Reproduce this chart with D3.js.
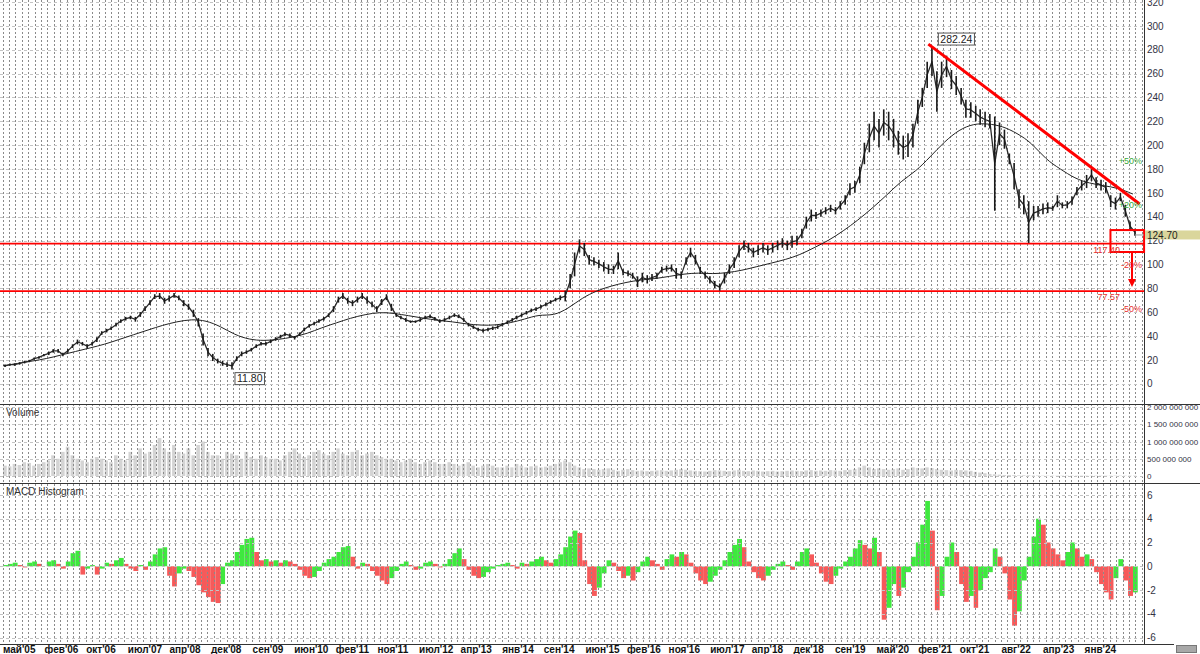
<!DOCTYPE html>
<html>
<head>
<meta charset="utf-8">
<script src="https://cdn.jsdelivr.net/npm/d3@7.9.0/dist/d3.min.js"></script>
<style>
  html, body { margin: 0; padding: 0; background: #fff; }
  svg { display: block; font-family: Arial, "Liberation Sans", sans-serif; }
</style>
</head>
<body>
<svg id="chart" width="1200" height="654"></svg>
<script>
// monthly bars, first one is May 2005
const firstMonth = new Date(2005, 4, 1);

const priceHigh = [
  16,17,17,18,19,20,22,23,
  25,27,29,29,26,29,33,37,35,33,35,39,
  44,46,48,51,54,56,57,56,60,65,70,75,
  76,72,74,76,74,70,67,62,55,42,30,25,
  21,19,18,18,23,27,28,30,33,35,35,37,
  39,41,43,42,40,43,47,50,52,54,56,59,
  65,73,76,72,70,73,76,73,69,65,71,75,
  67,59,57,55,53,53,55,57,58,56,54,55,
  57,59,58,55,51,49,47,46,47,48,49,51,
  53,55,57,59,61,63,64,66,68,70,72,74,
  78,92,110,121,118,108,106,104,102,100,99,110,
  96,95,93,90,93,91,92,93,98,99,100,97,
  94,106,114,108,98,94,90,86,84,93,100,106,
  116,120,118,114,116,118,116,118,120,122,120,124,
  124,130,140,146,144,146,148,150,148,153,158,168,
  170,182,202,218,228,222,230,228,222,212,208,210,
  218,238,248,270,282,262,270,275,263,258,248,238,
  236,233,230,228,226,224,219,213,193,185,163,158,
  153,149,149,151,152,149,158,152,153,157,165,170,
  175,180,173,171,169,158,156,160,150,136,130
];
const priceLow = [
  14,15,15,16,17,18,20,21,
  23,24,26,26,23,26,30,33,32,30,32,35,
  41,43,45,48,51,53,54,52,56,61,66,71,
  71,67,69,72,70,65,62,56,48,32,23,19,
  17,15,14,11.8,19,23,25,27,30,32,32,34,
  36,38,40,39,37,40,44,47,49,51,53,56,
  60,68,71,67,65,68,71,67,64,60,66,70,
  61,56,54,52,51,51,52,54,55,53,51,52,
  54,56,55,52,48,46,44,43,44,45,46,48,
  50,52,54,56,58,60,61,63,65,67,69,70,
  69,80,90,110,107,100,99,97,94,92,92,96,
  91,90,88,81,85,84,86,88,93,94,94,88,
  88,100,106,100,92,88,84,80,78,84,92,97,
  106,112,110,106,108,110,108,110,112,114,112,114,
  116,122,130,136,138,140,142,144,142,146,150,158,
  160,168,184,194,204,198,208,204,198,192,188,190,
  198,218,232,248,258,228,248,257,247,242,234,223,
  223,220,217,215,214,145,200,197,184,163,147,142,
  118,137,140,142,143,145,148,147,147,150,158,162,
  164,170,164,162,160,148,146,153,140,128,124
];
// moving average, one value every 3 months
const movingAvg = [
  15,17,19,21,24,27,30,33,37,41,45,49,52,54,53,48,41,37,36,37,
  39,42,47,51,55,58,60,59,57,55,53,52,50,49,49,51,54,58,57,63,
  72,78,82,85,87,88,90,92,93,92,93,95,98,101,104,108,114,120,128,137,
  147,158,170,178,190,203,213,218,218,216,210,202,188,180,172,168,166,164,159
];
// volume, millions of shares
const volume = [
  300,280,350,320,400,380,300,350,
  400,450,600,500,700,850,600,500,450,400,500,550,
  500,450,400,600,500,450,700,600,800,650,700,900,
  1100,800,700,900,700,650,800,600,900,1000,700,600,
  600,500,700,650,600,500,700,550,500,600,550,500,
  500,450,600,700,800,650,550,600,700,750,650,600,
  700,800,650,600,700,750,600,650,700,600,550,500,
  500,450,400,450,500,400,350,400,450,400,350,350,
  400,350,300,350,400,300,250,300,350,300,250,250,
  300,250,350,300,250,280,300,250,270,300,350,400,
  450,400,300,250,200,220,200,180,200,220,180,150,
  180,200,170,150,160,140,150,160,170,150,160,180,
  200,180,160,150,140,130,150,170,160,150,140,160,
  180,150,140,160,150,130,140,150,130,140,150,160,
  150,140,160,170,150,160,150,170,160,150,170,180,
  200,250,300,250,200,220,200,180,200,220,180,200,
  250,230,220,250,230,200,180,170,160,180,170,160,
  150,120,100,80,60,50,40,30,30,25,20,20,
  20,15,15,10,10,10,10,10,10,10,10,10,
  10,10,10,10,10,10,10,10,10,10,10
];
const macdHist = [
  0.1,0.2,0.3,0.1,-0.1,0.3,0.4,0.2,
  0.0,0.4,0.5,0.2,-0.2,0.4,1.1,1.3,-0.7,-0.2,0.1,-0.7,
  -0.2,0.3,0.2,0.5,0.7,0.2,-0.2,-0.4,0.1,-0.3,0.4,1.0,
  1.5,1.6,-0.8,-1.7,-0.6,-0.2,-0.4,-0.9,-1.6,-2.2,-2.6,-3.0,
  -3.1,-1.5,0.3,0.5,1.2,1.8,2.3,2.4,1.2,0.5,0.6,0.4,
  0.5,0.3,0.5,0.4,0.2,-0.3,-0.8,-1.0,-0.9,-0.4,0.3,0.6,
  0.8,1.2,1.6,1.7,0.8,-0.2,0.3,0.2,-0.4,-0.8,-1.2,-1.5,
  -1.0,-0.4,0.2,0.4,0.1,-0.3,-0.2,0.3,0.4,0.2,-0.1,0.2,
  0.6,1.1,1.5,0.6,-0.3,-0.8,-1.0,-0.9,-0.5,-0.2,0.1,0.2,
  0.3,0.1,-0.2,0.3,0.2,0.4,0.6,0.8,0.5,0.3,0.6,1.0,
  1.6,2.5,3.0,2.8,0.5,-1.5,-2.5,-1.8,-0.6,0.5,0.3,-0.4,
  -1.0,-0.8,-1.2,-0.5,0.4,0.8,0.5,0.2,-0.3,0.6,1.0,0.8,
  1.2,1.0,0.3,-0.6,-1.2,-1.5,-1.3,-0.8,-0.3,0.5,1.2,1.8,
  2.3,1.6,0.4,-0.5,-1.0,-1.2,-0.8,-0.3,0.2,0.4,0.1,-0.3,
  0.4,1.2,1.5,1.0,0.3,-0.6,-1.3,-1.5,-0.8,-0.2,0.4,0.8,
  1.5,2.2,1.8,1.5,2.4,1.2,-4.5,-3.5,-1.5,-2.5,-1.8,-0.5,
  0.8,2.0,3.5,5.5,3.0,-3.7,-2.5,0.8,2.0,1.2,-1.5,-3.0,
  -2.5,-3.5,-2.0,-1.0,-0.5,1.5,0.8,-0.6,-2.8,-5.0,-3.8,-1.2,
  0.8,2.5,4.0,3.5,2.0,1.5,1.0,0.5,1.2,2.0,1.5,0.8,
  1.0,0.6,-0.5,-1.5,-2.2,-2.8,-1.0,0.6,-1.2,-2.5,-2.2
];

const dateLabels = ["май'05","фев'06","окт'06","июл'07","апр'08","дек'08","сен'09","июн'10",
  "фев'11","ноя'11","июл'12","апр'13","янв'14","сен'14","июн'15","фев'16","ноя'16","июл'17",
  "апр'18","дек'18","сен'19","май'20","фев'21","окт'21","авг'22","апр'23","янв'24"];
const priceTicks = d3.range(0, 321, 20);
const volumeTicks = [0, 500, 1000, 1500, 2000];
const macdTicks = [-6, -4, -2, 0, 2, 4, 6];

const supportLevels = [117.40, 77.57];
const lastPrice = 124.70;
const pctTargets = [0.5, 0.2, -0.2, -0.5];
const peakMark = { date: new Date(2021, 4, 16), value: 282.24 };
const lowMark = { date: new Date(2009, 3, 1), value: 11.80 };
const trendLine = [{ date: new Date(2021, 3, 21), value: 284.7 }, { date: new Date(2024, 11, 13), value: 150.6 }];
const boxCorners = [{ date: new Date(2024, 5, 12), value: 128.8 }, { date: new Date(2025, 0, 10), value: 110.4 }];
const arrowPts = [{ date: new Date(2024, 9, 26), value: 110.4 }, { date: new Date(2024, 9, 26), value: 81 }];

const months = priceHigh.map((_, i) => d3.timeMonth.offset(firstMonth, i));

const svg = d3.select('#chart');
const axisX = 1144;

const x = d3.scaleTime()
  .domain([firstMonth, new Date(2024, 0, 1)])
  .range([3, 1084.6]);
const xLabel = d3.scaleLinear()
  .domain([0, dateLabels.length - 1])
  .range([x(firstMonth), x(new Date(2024, 0, 1))]);

const yP = d3.scaleLinear().domain([0, 320]).range([383.7, 2]);
const yV = d3.scaleLinear().domain([0, 2000]).range([476, 407]);
const yM = d3.scaleLinear().domain([-6, 6]).range([637.5, 495]);

// volume bars
svg.append('g').selectAll('rect')
  .data(volume)
  .join('rect')
  .attr('x', (d, i) => x(months[i]))
  .attr('width', (d, i) => Math.max(1, x(d3.timeMonth.offset(months[i], 1)) - x(months[i]) - 1.2))
  .attr('y', d => yV(d))
  .attr('height', d => yV(0) - yV(d))
  .attr('fill', '#d4d4d4');

// macd histogram, green when rising, red when falling
svg.append('g').selectAll('rect')
  .data(macdHist)
  .join('rect')
  .attr('x', (d, i) => x(months[i]))
  .attr('width', (d, i) => x(d3.timeMonth.offset(months[i], 1)) - x(months[i]))
  .attr('y', d => Math.min(yM(d), yM(0)))
  .attr('height', d => Math.abs(yM(d) - yM(0)))
  .attr('fill', (d, i) => (i > 0 && d < macdHist[i - 1]) ? '#f65a5a' : '#3fe83f');

// dotted grid
const grid = svg.append('g').attr('class', 'grid');
grid.selectAll('line.v')
  .data(d3.range(3, axisX, 6.4))
  .join('line')
  .attr('x1', d => d).attr('x2', d => d)
  .attr('y1', 0).attr('y2', 644)
  .attr('stroke', '#8a8a8a')
  .attr('stroke-dasharray', '2,2')
  .attr('shape-rendering', 'crispEdges');

function hGrid(scale, ticks) {
  grid.append('g').selectAll('line')
    .data(ticks)
    .join('line')
    .attr('x1', 0).attr('x2', axisX)
    .attr('y1', d => Math.round(scale(d)) + 0.5).attr('y2', d => Math.round(scale(d)) + 0.5)
    .attr('stroke', '#c4c4c4')
    .attr('stroke-dasharray', '3,3');
}
hGrid(yP, priceTicks);
hGrid(yV, volumeTicks);
hGrid(yM, macdTicks);

// panel frames
svg.append('g').selectAll('line')
  .data([404, 483])
  .join('line')
  .attr('x1', 0).attr('x2', 1200)
  .attr('y1', d => d + 0.5).attr('y2', d => d + 0.5)
  .attr('stroke', '#333');
svg.append('line')
  .attr('x1', 0).attr('x2', 1174).attr('y1', 644.5).attr('y2', 644.5)
  .attr('stroke', '#333');
svg.append('line')
  .attr('x1', axisX + 0.5).attr('x2', axisX + 0.5).attr('y1', 0).attr('y2', 645)
  .attr('stroke', '#333');

// support levels
svg.append('g').selectAll('line')
  .data(supportLevels)
  .join('line')
  .attr('x1', 0).attr('x2', axisX)
  .attr('y1', d => yP(d)).attr('y2', d => yP(d))
  .attr('stroke', '#f00')
  .attr('stroke-width', 1.6);

// moving average
svg.append('path')
  .datum(movingAvg)
  .attr('fill', 'none')
  .attr('stroke', '#222')
  .attr('stroke-width', 1)
  .attr('d', d3.line()
    .x((d, i) => x(d3.timeMonth.offset(firstMonth, i * 3)))
    .y(d => yP(d))
    .curve(d3.curveBasis));

// price: monthly high-low bars joined through their middles
const price = svg.append('g').attr('class', 'price');
price.append('path')
  .datum(months)
  .attr('fill', 'none')
  .attr('stroke', '#2a2a2a')
  .attr('stroke-width', 1.3)
  .attr('stroke-linejoin', 'round')
  .attr('d', d3.line()
    .x(d => x(d) + 2)
    .y((d, i) => yP((priceLow[i] + priceHigh[i]) / 2)));
price.selectAll('line')
  .data(months)
  .join('line')
  .attr('x1', d => x(d) + 2).attr('x2', d => x(d) + 2)
  .attr('y1', (d, i) => yP(priceLow[i]))
  .attr('y2', (d, i) => yP(priceHigh[i]))
  .attr('stroke', '#1a1a1a')
  .attr('stroke-width', 1.6);

// trend line
svg.append('line')
  .attr('x1', x(trendLine[0].date)).attr('y1', yP(trendLine[0].value))
  .attr('x2', x(trendLine[1].date)).attr('y2', yP(trendLine[1].value))
  .attr('stroke', '#f00')
  .attr('stroke-width', 3);

// box around last bars
svg.append('rect')
  .attr('x', x(boxCorners[0].date))
  .attr('y', yP(boxCorners[0].value))
  .attr('width', x(boxCorners[1].date) - x(boxCorners[0].date))
  .attr('height', yP(boxCorners[1].value) - yP(boxCorners[0].value))
  .attr('fill', 'none')
  .attr('stroke', '#f00')
  .attr('stroke-width', 2);

// arrow down
const ax = x(arrowPts[0].date);
const ay0 = yP(arrowPts[0].value);
const ay1 = yP(arrowPts[1].value);
svg.append('line')
  .attr('x1', ax).attr('x2', ax).attr('y1', ay0).attr('y2', ay1 - 7)
  .attr('stroke', '#f00').attr('stroke-width', 2);
svg.append('path')
  .attr('d', `M${ax - 4},${ay1 - 8}L${ax + 4},${ay1 - 8}L${ax},${ay1}Z`)
  .attr('fill', '#f00');

// level labels
svg.append('g').selectAll('text')
  .data(supportLevels)
  .join('text')
  .attr('x', 1120)
  .attr('y', d => yP(d) + 9)
  .attr('text-anchor', 'end')
  .attr('font-size', 9)
  .attr('fill', '#e83030')
  .text(d => d.toFixed(2));

svg.append('g').selectAll('text')
  .data(pctTargets)
  .join('text')
  .attr('x', 1142)
  .attr('y', d => yP(lastPrice * (1 + d)) + 3)
  .attr('text-anchor', 'end')
  .attr('font-size', 9)
  .attr('fill', d => d > 0 ? '#3aaa3a' : '#e83030')
  .text(d => (d > 0 ? '+' : '-') + Math.round(Math.abs(d) * 100) + '%');

// value boxes
function valueBox(mark, dx, dy) {
  const g = svg.append('g')
    .attr('transform', `translate(${x(mark.date) + dx},${yP(mark.value) + dy})`);
  const t = g.append('text')
    .attr('x', 2).attr('y', 9.5)
    .attr('font-size', 10.5)
    .attr('fill', '#222')
    .text(mark.value.toFixed(2));
  const w = t.node().getComputedTextLength() + 4;
  g.insert('rect', 'text')
    .attr('width', w).attr('height', 12)
    .attr('fill', '#fff')
    .attr('stroke', '#555');
}
valueBox(peakMark, 6, -14);
valueBox(lowMark, 5, 3);

// last price marker
const lp = yP(lastPrice);
svg.append('line')
  .attr('x1', x(months[months.length - 1]) + 2).attr('x2', axisX)
  .attr('y1', lp).attr('y2', lp)
  .attr('stroke', '#999');

// right axes
function rightAxis(scale, ticks, fmt, size) {
  const g = svg.append('g')
    .attr('transform', `translate(${axisX},0)`)
    .call(d3.axisRight(scale).tickValues(ticks).tickSize(0).tickPadding(3).tickFormat(fmt));
  g.select('.domain').remove();
  g.selectAll('text')
    .attr('font-size', size)
    .attr('font-family', 'Arial, "Liberation Sans", sans-serif')
    .attr('fill', '#333344');
}
rightAxis(yP, priceTicks, d => d, 10);
rightAxis(yV, volumeTicks, d => d3.format(',')(d * 1e6).replace(/,/g, ' '), 8);
rightAxis(yM, macdTicks, d => d, 10);

svg.append('rect')
  .attr('x', axisX + 1).attr('y', lp - 4.5)
  .attr('width', 1200 - axisX - 1).attr('height', 9)
  .attr('fill', '#dad69c');
svg.append('text')
  .attr('x', axisX + 3).attr('y', lp + 3.6)
  .attr('font-size', 10)
  .attr('fill', '#222')
  .text(lastPrice.toFixed(2));

// panel titles
svg.append('text').attr('x', 6).attr('y', 416)
  .attr('font-size', 10).attr('fill', '#333').text('Volume');
svg.append('text').attr('x', 6).attr('y', 495)
  .attr('font-size', 10).attr('fill', '#333').text('MACD Histogram');

// bottom date labels
svg.append('g').selectAll('text')
  .data(dateLabels)
  .join('text')
  .attr('x', (d, i) => xLabel(i))
  .attr('y', 653)
  .attr('font-size', 10)
  .attr('font-weight', 'bold')
  .attr('fill', '#111')
  .text(d => d);

// scroll thumb
svg.append('rect')
  .attr('x', 1176.5).attr('y', 645.5).attr('width', 20).attr('height', 7)
  .attr('fill', '#a8a8a8').attr('stroke', '#777');
</script>
</body>
</html>
